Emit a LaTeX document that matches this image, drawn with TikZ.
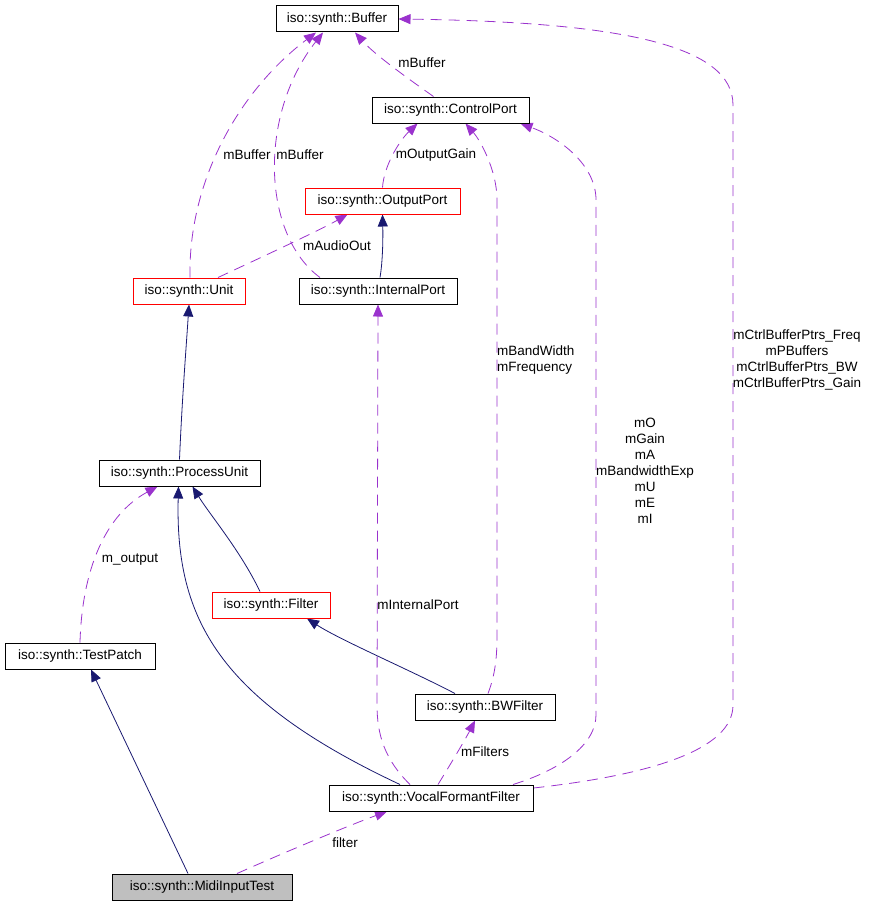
\documentclass[tikz,border=0pt]{standalone}
\usepackage{fontspec}
\setmainfont{Liberation Sans}
\usepackage{tikz}
\usetikzlibrary{arrows.meta}
\pgfdeclarelayer{background}
\pgfsetlayers{background,main}
\definecolor{dxnavy}{RGB}{25,25,112}
\definecolor{dxpurple}{RGB}{154,50,205}
\definecolor{dxgray}{RGB}{191,191,191}
\tikzstyle{classnode} = [draw, rectangle, fill = white, line width = 1pt, minimum height = 26pt, inner sep = 0pt, font = \fontsize{13.5}{16}\selectfont]
\tikzstyle{classred} = [draw = red]
\tikzstyle{classgray} = [fill = dxgray]
\tikzstyle{inheritedge} = [dxnavy, line width = 0.8pt, -{Triangle[length = 12pt, width = 10pt]}]
\tikzstyle{useedge} = [dxpurple, line width = 0.8pt, dash pattern = on 11pt off 7pt, -{Triangle[length = 12pt, width = 10pt]}]
\tikzstyle{edgelabel} = [inner sep = 0pt, align = center, font = \fontsize{13.5}{16}\selectfont]

\begin{document}
\begin{tikzpicture}[x = 1pt, y = -1pt]
\useasboundingbox (0, 0) rectangle (868, 907);
\node[classnode, minimum width = 122pt] (buffer) at (337, 19) {iso::synth::Buffer};
\node[classnode, minimum width = 157pt] (ctrlport) at (450.5, 110) {iso::synth::ControlPort};
\node[classnode, classred, minimum width = 155pt] (outport) at (382.5, 201) {iso::synth::OutputPort};
\node[classnode, classred, minimum width = 112pt] (unit) at (189, 291) {iso::synth::Unit};
\node[classnode, minimum width = 158pt] (intport) at (378, 291) {iso::synth::InternalPort};
\node[classnode, minimum width = 161pt] (procunit) at (179.5, 473) {iso::synth::ProcessUnit};
\node[classnode, classred, minimum width = 118pt] (filter) at (271, 605) {iso::synth::Filter};
\node[classnode, minimum width = 150pt] (testpatch) at (80, 656) {iso::synth::TestPatch};
\node[classnode, minimum width = 140pt] (bwfilter) at (485, 707) {iso::synth::BWFilter};
\node[classnode, minimum width = 204pt] (vocal) at (431, 798) {iso::synth::VocalFormantFilter};
\node[classnode, classgray, minimum width = 180pt] (midi) at (202, 887) {iso::synth::MidiInputTest};
% member labels
\node[edgelabel] (lbufunit) at (247, 155) {mBuffer};
\node[edgelabel] (lbufint) at (300, 155) {mBuffer};
\node[edgelabel] (lbufctrl) at (422, 63) {mBuffer};
\node[edgelabel] (laudio) at (337, 246) {mAudioOut};
\node[edgelabel] (lgain) at (436, 155) {mOutputGain};
\node[edgelabel, anchor = west, align = left] (lbw) at (497, 360) {mBandWidth\\mFrequency};
\node[edgelabel] (lctrl) at (645, 471) {mO\\mGain\\mA\\mBandwidthExp\\mU\\mE\\mI};
\node[edgelabel] (lptrs) at (797, 359.5) {mCtrlBufferPtrs\_Freq\\mPBuffers\\mCtrlBufferPtrs\_BW\\mCtrlBufferPtrs\_Gain};
\node[edgelabel] (lintport) at (418, 605) {mInternalPort};
\node[edgelabel] (loutput) at (130, 560) {m\_output};
\node[edgelabel] (lfilters) at (485, 752) {mFilters};
\node[edgelabel] (lfilter) at (345, 843) {filter};
\begin{pgfonlayer}{background}
\draw[useedge] ([xshift = 1pt]unit.north) .. controls (188, 180) and (240, 90) .. ([xshift = -21pt]buffer.south);
\draw[useedge] ([xshift = -58pt]intport.north) .. controls (262, 235) and (258, 115) .. ([xshift = -14pt]buffer.south);
\draw[useedge] ([xshift = -17pt]ctrlport.north) .. controls (410, 80) and (375, 55) .. ([xshift = 18pt]buffer.south);
\draw[useedge] ([xshift = 29pt]unit.north) .. controls (260, 258) and (320, 230) .. ([xshift = -35pt]outport.south);
\draw[inheritedge] ([xshift = 2pt]intport.north) .. controls (383, 260) and (383, 235) .. (outport.south);
\draw[useedge] (outport.north) .. controls (384, 165) and (400, 140) .. ([xshift = -33pt]ctrlport.south);
\draw[useedge] ([xshift = 3pt]bwfilter.north) .. controls (497, 670) and (497, 650) .. (497, 630) -- (497, 200) .. controls (497, 170) and (480, 140) .. ([xshift = 15pt]ctrlport.south);
\draw[useedge] ([xshift = 82pt]vocal.north) .. controls (560, 770) and (596, 745) .. (596, 715) -- (596, 200) .. controls (596, 165) and (560, 138) .. ([xshift = 70pt]ctrlport.south);
\draw[useedge] ([yshift = 10pt]vocal.east) .. controls (650, 775) and (733, 750) .. (733, 705) -- (733, 105) .. controls (733, 45) and (620, 22) .. (buffer.east);
\draw[useedge] ([xshift = -21pt]vocal.north) .. controls (385, 760) and (377, 735) .. (377, 705) -- (intport.south);
\draw[useedge] ([xshift = 7pt]vocal.north) .. controls (450, 765) and (465, 740) .. ([xshift = -10pt]bwfilter.south);
\draw[inheritedge] ([xshift = -31pt]vocal.north) .. controls (220, 700) and (175, 620) .. ([xshift = -1pt]procunit.south);
\draw[inheritedge] ([xshift = -11pt]filter.north) .. controls (240, 550) and (210, 515) .. ([xshift = 13pt]procunit.south);
\draw[inheritedge] ([xshift = -30pt]bwfilter.north) .. controls (410, 670) and (340, 640) .. ([xshift = 36pt]filter.south);
\draw[inheritedge] (procunit.north) .. controls (182, 400) and (186, 350) .. (unit.south);
\draw[useedge] (testpatch.north) .. controls (82, 570) and (105, 515) .. ([xshift = -22pt]procunit.south);
\draw[inheritedge] ([xshift = -14pt]midi.north) -- ([xshift = 11pt]testpatch.south);
\draw[useedge] ([xshift = 35pt]midi.north) .. controls (290, 850) and (350, 825) .. ([xshift = -44pt]vocal.south);
\end{pgfonlayer}

\end{tikzpicture}
\end{document}
